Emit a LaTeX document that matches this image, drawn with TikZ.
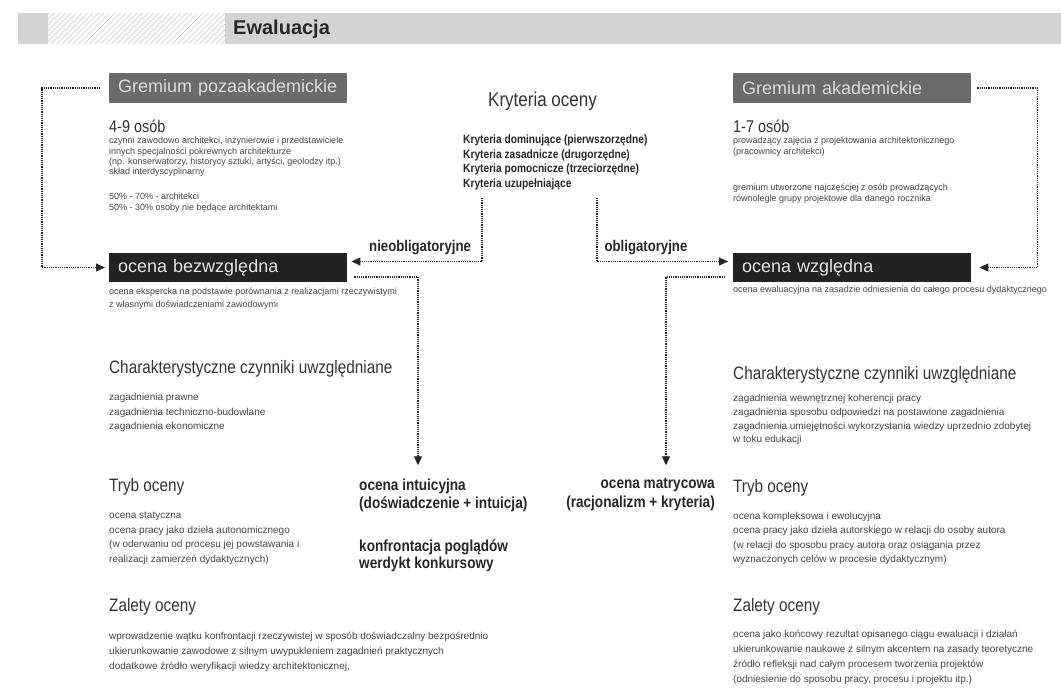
\documentclass[tikz,border=0pt]{standalone}
\usepackage{fontspec}
\setmainfont{Liberation Sans}
\newfontfamily\narrowfont{Liberation Sans}[FakeStretch=0.85]
\usetikzlibrary{arrows.meta, positioning}

\definecolor{barGrey}{HTML}{D3D3D3}
\definecolor{hatchGrey}{HTML}{C6C6C6}
\definecolor{gremGrey}{HTML}{6B6B6B}
\definecolor{gremText}{HTML}{DCDCDC}
\definecolor{ocenaBlack}{HTML}{232323}
\definecolor{ocenaText}{HTML}{E4E4E4}
\definecolor{headGrey}{HTML}{333333}
\definecolor{bodyText}{HTML}{444444}

\begin{document}
\begin{tikzpicture}[x=1pt, y=-1pt,
    every node/.style={inner sep=0pt},
    gremium/.style={fill=gremGrey, text=gremText, anchor=west, inner xsep=9pt, text width=220pt, minimum height=30pt, align=left, font=\fontsize{18}{20}\selectfont},
    ocenabox/.style={fill=ocenaBlack, text=ocenaText, anchor=west, inner xsep=9pt, text width=220pt, minimum height=29pt, align=left, font=\fontsize{18}{20}\selectfont},
    headline/.style={anchor=base west, text=headGrey, font=\narrowfont\fontsize{18}{20}\selectfont},
    smalltext/.style={anchor=north west, align=left, text=bodyText, font=\fontsize{9}{10.3}\selectfont},
    bodytext/.style={anchor=north west, align=left, text=bodyText, font=\fontsize{10}{14.5}\selectfont},
    criteria/.style={anchor=north west, align=left, text=black!85, font=\narrowfont\bfseries\fontsize{12}{14.5}\selectfont},
    methodtext/.style={align=left, text=black!85, font=\narrowfont\bfseries\fontsize{16}{18.5}\selectfont},
    flowlabel/.style={text=black!85, font=\narrowfont\bfseries\fontsize{15.5}{18}\selectfont},
    dotarrow/.style={densely dotted, line width=1.2pt, black!85, -{Triangle[length=9pt, width=8pt]}}
]
    \useasboundingbox (0,0) rectangle (1061,697);

    % Title bar
    \fill[barGrey] (18,13) rectangle (48,44);
    \begin{scope}
        \clip (48,13) rectangle (225,44);
        \foreach \x in {18,23.5,...,230}
            \draw[hatchGrey, line width=0.6pt] (\x,44) -- (\x+31,13);
    \end{scope}
    \fill[barGrey] (225,13) rectangle (1061,44);
    \node (title) [anchor=west, text=black!85, font=\bfseries\fontsize{20}{22}\selectfont] at (233,29) {Ewaluacja};

    % Gremium headers
    \node (grem_poza) [gremium] at (109,88) {Gremium pozaakademickie};
    \node (grem_akad) [gremium] at (733,88) {Gremium akademickie};

    % Gremium pozaakademickie details
    \node (poza_liczba) [headline, font=\narrowfont\fontsize{17}{19}\selectfont] at (109,132.5) {4-9 osób};
    \node (poza_opis) [smalltext] at (109,137) {czynni zawodowo architekci, inżynierowie i przedstawiciele\\ innych specjalności pokrewnych architekturze\\ (np. konserwatorzy, historycy sztuki, artyści, geolodzy itp.)\\ skład interdyscyplinarny};
    \node (poza_proc) [smalltext] at (109,193) {50\% - 70\% - architekci\\ 50\% - 30\% osoby nie będące architektami};

    % Gremium akademickie details
    \node (akad_liczba) [headline, font=\narrowfont\fontsize{17}{19}\selectfont] at (733,132.5) {1-7 osób};
    \node (akad_opis) [smalltext] at (733,137) {prowadzący zajęcia z projektowania architektonicznego\\ (pracownicy architekci)};
    \node (akad_sklad) [smalltext] at (733,184) {gremium utworzone najczęściej z osób prowadzących\\ równolegle grupy projektowe dla danego rocznika};

    % Kryteria oceny
    \node (kryt_title) [headline, font=\narrowfont\fontsize{20}{22}\selectfont] at (488,106) {Kryteria oceny};
    \node (kryteria) [criteria] at (463,135) {Kryteria dominujące (pierwszorzędne)\\ Kryteria zasadnicze (drugorzędne)\\ Kryteria pomocnicze (trzeciorzędne)\\ Kryteria uzupełniające};

    % Ocena boxes
    \node (bezwzgl) [ocenabox] at (109,267.5) {ocena bezwzględna};
    \node (wzgl) [ocenabox] at (733,267.5) {ocena względna};
    \node (bezwzgl_opis) [smalltext, font=\fontsize{9}{13}\selectfont] at (109,288) {ocena ekspercka na podstawie porównania z realizacjami rzeczywistymi\\ z własnymi doświadczeniami zawodowymi};
    \node (wzgl_opis) [smalltext] at (733,286) {ocena ewaluacyjna na zasadzie odniesienia do całego procesu dydaktycznego};

    % Characteristic factors
    \node (czyn_l) [headline] at (109,373) {Charakterystyczne czynniki uwzględniane};
    \node (czyn_l_opis) [bodytext] at (109,393.5) {zagadnienia prawne\\ zagadnienia techniczno-budowlane\\ zagadnienia ekonomiczne};
    \node (czyn_r) [headline] at (733,379) {Charakterystyczne czynniki uwzględniane};
    \node (czyn_r_opis) [bodytext, font=\fontsize{10}{13.8}\selectfont] at (733,394) {zagadnienia wewnętrznej koherencji pracy\\ zagadnienia sposobu odpowiedzi na postawione zagadnienia\\ zagadnienia umiejętności wykorzystania wiedzy uprzednio zdobytej\\ w toku edukacji};

    % Tryb oceny
    \node (tryb_l) [headline] at (109,491) {Tryb oceny};
    \node (tryb_l_opis) [bodytext] at (109,512) {ocena statyczna\\ ocena pracy jako dzieła autonomicznego\\ (w oderwaniu od procesu jej powstawania i\\ realizacji zamierzeń dydaktycznych)};
    \node (tryb_r) [headline] at (733,492) {Tryb oceny};
    \node (tryb_r_opis) [bodytext] at (733,512) {ocena kompleksowa i ewolucyjna\\ ocena pracy jako dzieła autorskiego w relacji do osoby autora\\ (w relacji do sposobu pracy autora oraz osiągania przez\\ wyznaczonych celów w procesie dydaktycznym)};

    % Zalety oceny
    \node (zal_l) [headline] at (109,611) {Zalety oceny};
    \node (zal_l_opis) [bodytext, font=\fontsize{10}{15}\selectfont] at (109,632) {wprowadzenie wątku konfrontacji rzeczywistej w sposób doświadczalny bezpośrednio\\ ukierunkowanie zawodowe z silnym uwypukleniem zagadnień praktycznych\\ dodatkowe źródło weryfikacji wiedzy architektonicznej,};
    \node (zal_r) [headline] at (733,611) {Zalety oceny};
    \node (zal_r_opis) [bodytext, font=\fontsize{10}{15}\selectfont] at (733,630) {ocena jako końcowy rezultat opisanego ciągu ewaluacji i działań\\ ukierunkowanie naukowe z silnym akcentem na zasady teoretyczne\\ źródło refleksji nad całym procesem tworzenia projektów\\ (odniesienie do sposobu pracy, procesu i projektu itp.)};

    % Methods
    \node (intuicyjna) [methodtext, anchor=north west] at (359,478.3) {ocena intuicyjna\\ (doświadczenie + intuicja)};
    \node (werdykt) [methodtext, anchor=north west, font=\narrowfont\bfseries\fontsize{16}{17}\selectfont] at (359,540) {konfrontacja poglądów\\ werdykt konkursowy};
    \node (matrycowa) [methodtext, anchor=north east, align=right] at (715,478.3) {ocena matrycowa\\ (racjonalizm + kryteria)};

    % Gremium flows
    \draw [dotarrow, shorten <=9pt, shorten >=4pt] (grem_poza.west) -- ++(-67,0) |- (bezwzgl.west);
    \draw [dotarrow, shorten <=6pt, shorten >=8pt] (grem_akad.east) -- ++(66,0) |- (wzgl.east);

    % Criteria flows
    \draw [dotarrow, shorten <=8pt, shorten >=4pt] ([xshift=19pt]kryteria.south west) |- ([yshift=6pt]bezwzgl.east) node[flowlabel, pos=0.73, above=6pt] {nieobligatoryjne};
    \draw [dotarrow, shorten <=8pt, shorten >=5pt] ([xshift=134pt]kryteria.south west) |- ([yshift=6pt]wzgl.west) node[flowlabel, pos=0.68, above=6pt] {obligatoryjne};

    % Method flows
    \draw [dotarrow, shorten <=7pt, shorten >=13pt] ([yshift=-9.5pt]bezwzgl.east) -| ([xshift=59pt]intuicyjna.north west);
    \draw [dotarrow, shorten <=8pt, shorten >=13pt] ([yshift=-9.5pt]wzgl.west) -| ([xshift=-49pt]matrycowa.north east);

\end{tikzpicture}
\end{document}
